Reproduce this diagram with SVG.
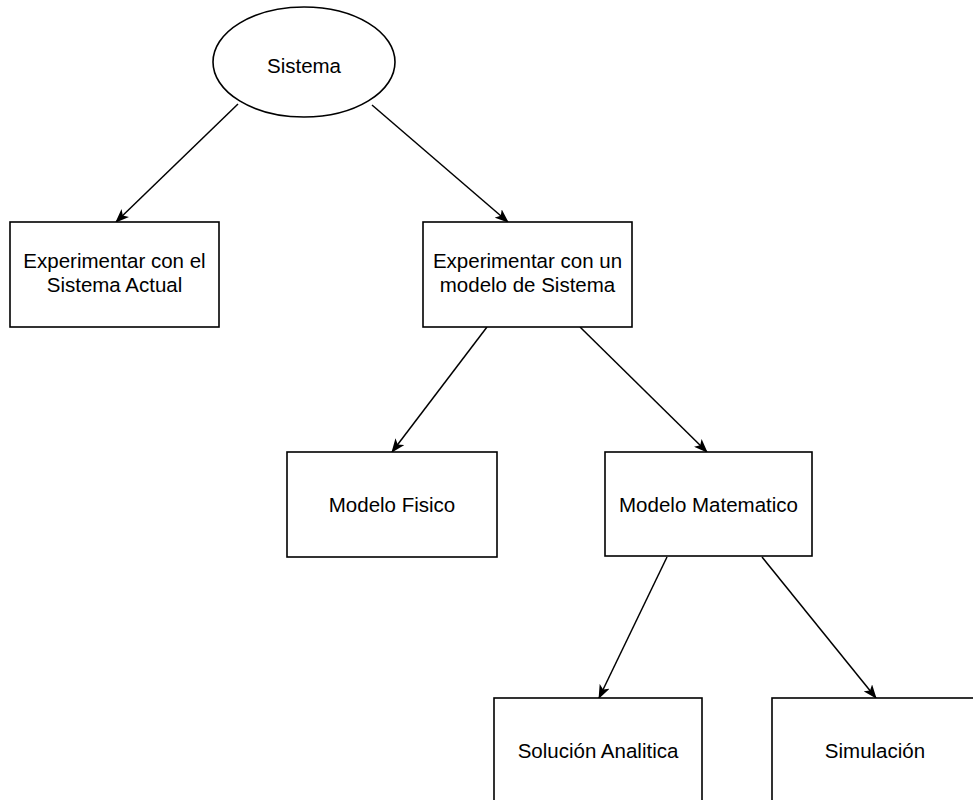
<svg xmlns="http://www.w3.org/2000/svg" width="973" height="800" viewBox="0 0 973 800">
<defs>
<marker id="arr" viewBox="0 0 14 11" refX="13" refY="5.5" markerWidth="14" markerHeight="11" markerUnits="userSpaceOnUse" orient="auto">
<path d="M0,0 L14,5.5 L0,11 L3.5,5.5 Z" fill="#000"/>
</marker>
<style>
.n{fill:#fff;stroke:#000;stroke-width:1.6}
.t{font-family:"Liberation Sans",Arial,sans-serif;font-size:20.5px;fill:#000;text-anchor:middle}
.c{stroke:#000;stroke-width:1.5;fill:none;marker-end:url(#arr)}
</style>
</defs>
<rect width="973" height="800" fill="#fff"/>
<g id="connectors">
<line class="c" x1="238" y1="104" x2="116" y2="222"/>
<line class="c" x1="372" y1="105" x2="508" y2="222"/>
<line class="c" x1="487" y1="327" x2="392" y2="452"/>
<line class="c" x1="580" y1="327" x2="707" y2="452"/>
<line class="c" x1="667" y1="557" x2="599" y2="698"/>
<line class="c" x1="762" y1="557" x2="876" y2="698"/>
</g>
<g id="sistema">
<ellipse class="n" cx="304" cy="62" rx="91" ry="55"/>
<text class="t" x="304" y="73">Sistema</text>
</g>
<g id="actual">
<rect class="n" x="10" y="222" width="209" height="105"/>
<text class="t" x="114.5" y="268">Experimentar con el</text>
<text class="t" x="114.5" y="292">Sistema Actual</text>
</g>
<g id="modelo">
<rect class="n" x="423" y="222" width="209" height="105"/>
<text class="t" x="527.5" y="268">Experimentar con un</text>
<text class="t" x="527.5" y="292">modelo de Sistema</text>
</g>
<g id="fisico">
<rect class="n" x="287" y="452" width="210" height="105"/>
<text class="t" x="392" y="512">Modelo Fisico</text>
</g>
<g id="matematico">
<rect class="n" x="605" y="452" width="207" height="104"/>
<text class="t" x="708.5" y="512">Modelo Matematico</text>
</g>
<g id="analitica">
<rect class="n" x="494" y="698" width="208" height="110"/>
<text class="t" x="598" y="758">Solución Analitica</text>
</g>
<g id="simulacion">
<rect class="n" x="772" y="698" width="209" height="110"/>
<text class="t" x="875" y="758">Simulación</text>
</g>
</svg>
